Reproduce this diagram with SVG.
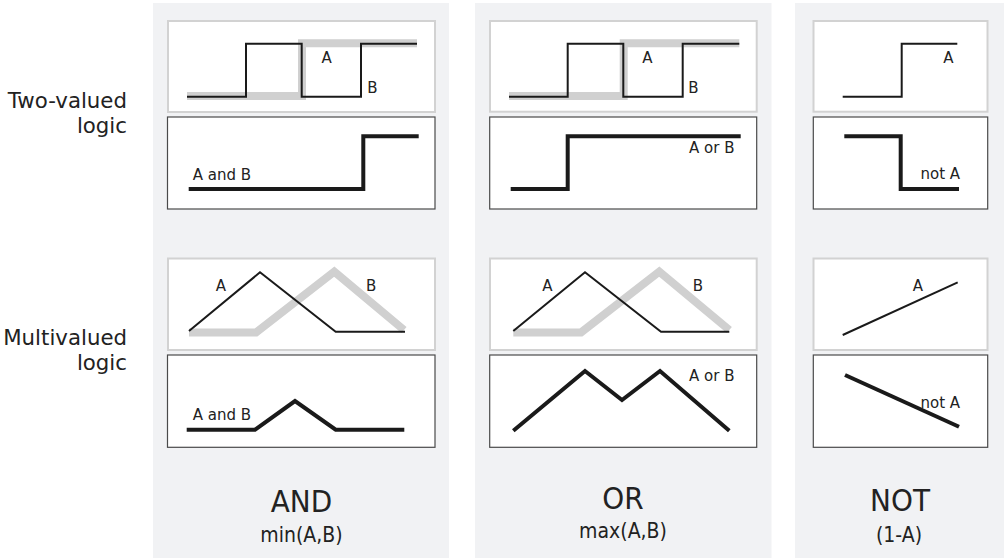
<svg xmlns="http://www.w3.org/2000/svg" width="1006" height="558" viewBox="0 0 1006 558">
<style>
.panel{fill:#f1f2f4}
.inp{fill:#fff;stroke:#d2d2d2;stroke-width:2}
.out{fill:#fff;stroke:#4a4a4a;stroke-width:1.2}
.thin{fill:none;stroke:#1a1a1a;stroke-width:2;stroke-linejoin:miter}
.thick{fill:none;stroke:#1a1a1a;stroke-width:4;stroke-linejoin:miter}
.grey{fill:none;stroke:#d0d0d0;stroke-width:8;stroke-linejoin:miter}
.lbl{font-family:"DejaVu Sans","Verdana",sans-serif;font-size:15px;fill:#222}
.side{font-family:"DejaVu Sans","Verdana",sans-serif;font-size:21.3px;fill:#222;text-anchor:end}
.op{font-family:"DejaVu Sans Condensed","DejaVu Sans",sans-serif;font-size:31px;fill:#222;text-anchor:middle}
.fn{font-family:"DejaVu Sans Condensed","DejaVu Sans",sans-serif;font-size:21px;fill:#222;text-anchor:middle}
</style>
<rect width="1006" height="558" fill="#fff"/>
<g id="row-labels">
<text class="side" x="127" y="108">Two-valued</text>
<text class="side" x="127" y="133">logic</text>
<text class="side" x="127" y="345">Multivalued</text>
<text class="side" x="127" y="370">logic</text>
</g>
<g id="col-and">
<rect class="panel" x="153" y="3" width="296" height="555"/>
<g id="and-two-in">
<rect class="inp" x="168" y="21" width="267" height="91"/>
<polyline class="grey" points="187,96 302,96 302,43.3 417,43.3"/>
<polyline class="thin" points="187,96.7 246,96.7 246,43.7 301.7,43.7 301.7,96.7 361,96.7 361,43.7 417,43.7"/>
<text class="lbl" x="321.5" y="62.7">A</text>
<text class="lbl" x="367.3" y="93.3">B</text>
</g>
<g id="and-two-out">
<rect class="out" x="167.5" y="117" width="267.5" height="92"/>
<polyline class="thick" points="188.7,189 363.3,189 363.3,136.3 418.7,136.3"/>
<text class="lbl" x="192.7" y="180">A and B</text>
</g>
<g id="and-multi-in">
<rect class="inp" x="168" y="258.5" width="267" height="91.5"/>
<polyline class="grey" points="189,332.5 256,332.5 334.3,271.7 404,330"/>
<polyline class="thin" points="189,331 260,272.3 335.7,331.7 405,331.7"/>
<text class="lbl" x="215.7" y="290.7">A</text>
<text class="lbl" x="366" y="290.7">B</text>
</g>
<g id="and-multi-out">
<rect class="out" x="167.5" y="355" width="267.5" height="92.3"/>
<polyline class="thick" points="186.7,429.7 255,429.7 295,401 335.7,429.7 404.3,429.7"/>
<text class="lbl" x="192.7" y="420">A and B</text>
</g>
<text class="op" x="301.5" y="511.5">AND</text>
<text class="fn" x="301.5" y="541.5">min(A,B)</text>
</g>
<g id="col-or">
<rect class="panel" x="475" y="3" width="296.5" height="555"/>
<g id="or-two-in">
<rect class="inp" x="490" y="21" width="266.7" height="90.7"/>
<polyline class="grey" points="509,96 623.7,96 623.7,43.3 739.3,43.3"/>
<polyline class="thin" points="509,96.7 567.7,96.7 567.7,43.7 623.3,43.7 623.3,96.7 682.7,96.7 682.7,43.7 739.3,43.7"/>
<text class="lbl" x="642.3" y="62.7">A</text>
<text class="lbl" x="688.3" y="93.3">B</text>
</g>
<g id="or-two-out">
<rect class="out" x="489.7" y="117" width="267" height="92"/>
<polyline class="thick" points="510.7,189 567.7,189 567.7,136.3 740.7,136.3"/>
<text class="lbl" x="689" y="153.3">A or B</text>
</g>
<g id="or-multi-in">
<rect class="inp" x="490" y="258.5" width="266.7" height="91.5"/>
<polyline class="grey" points="513.3,332.5 581,332.5 659.3,271.7 729.3,330"/>
<polyline class="thin" points="513.3,331 585,272.3 661,331.7 729.3,331.7"/>
<text class="lbl" x="542.3" y="290.7">A</text>
<text class="lbl" x="692.7" y="290.7">B</text>
</g>
<g id="or-multi-out">
<rect class="out" x="489.7" y="355" width="267" height="92.3"/>
<polyline class="thick" points="513.3,430.7 585,371 622,400 660,371 729.3,430.7"/>
<text class="lbl" x="689" y="381">A or B</text>
</g>
<text class="op" x="623" y="508.5">OR</text>
<text class="fn" x="623" y="537.5">max(A,B)</text>
</g>
<g id="col-not">
<rect class="panel" x="795" y="3" width="209" height="555"/>
<g id="not-two-in">
<rect class="inp" x="813.5" y="21" width="174" height="90.7"/>
<polyline class="thin" points="842.7,96.7 901.7,96.7 901.7,43.7 957.3,43.7"/>
<text class="lbl" x="943.3" y="62.7">A</text>
</g>
<g id="not-two-out">
<rect class="out" x="813.3" y="117" width="174.4" height="92"/>
<polyline class="thick" points="844.3,136.3 900.7,136.3 900.7,189 959,189"/>
<text class="lbl" x="920.5" y="179.3">not A</text>
</g>
<g id="not-multi-in">
<rect class="inp" x="813.5" y="258.5" width="174" height="91.5"/>
<line class="thin" x1="842.7" y1="335" x2="957.7" y2="282.3"/>
<text class="lbl" x="912.7" y="290.7">A</text>
</g>
<g id="not-multi-out">
<rect class="out" x="813.3" y="355" width="174.4" height="92.3"/>
<line class="thick" x1="845" y1="375" x2="959" y2="426.7"/>
<text class="lbl" x="920.5" y="408.3">not A</text>
</g>
<text class="op" x="900" y="511">NOT</text>
<text class="fn" x="899" y="541.5">(1-A)</text>
</g>
<g id="connectors"/>
</svg>
